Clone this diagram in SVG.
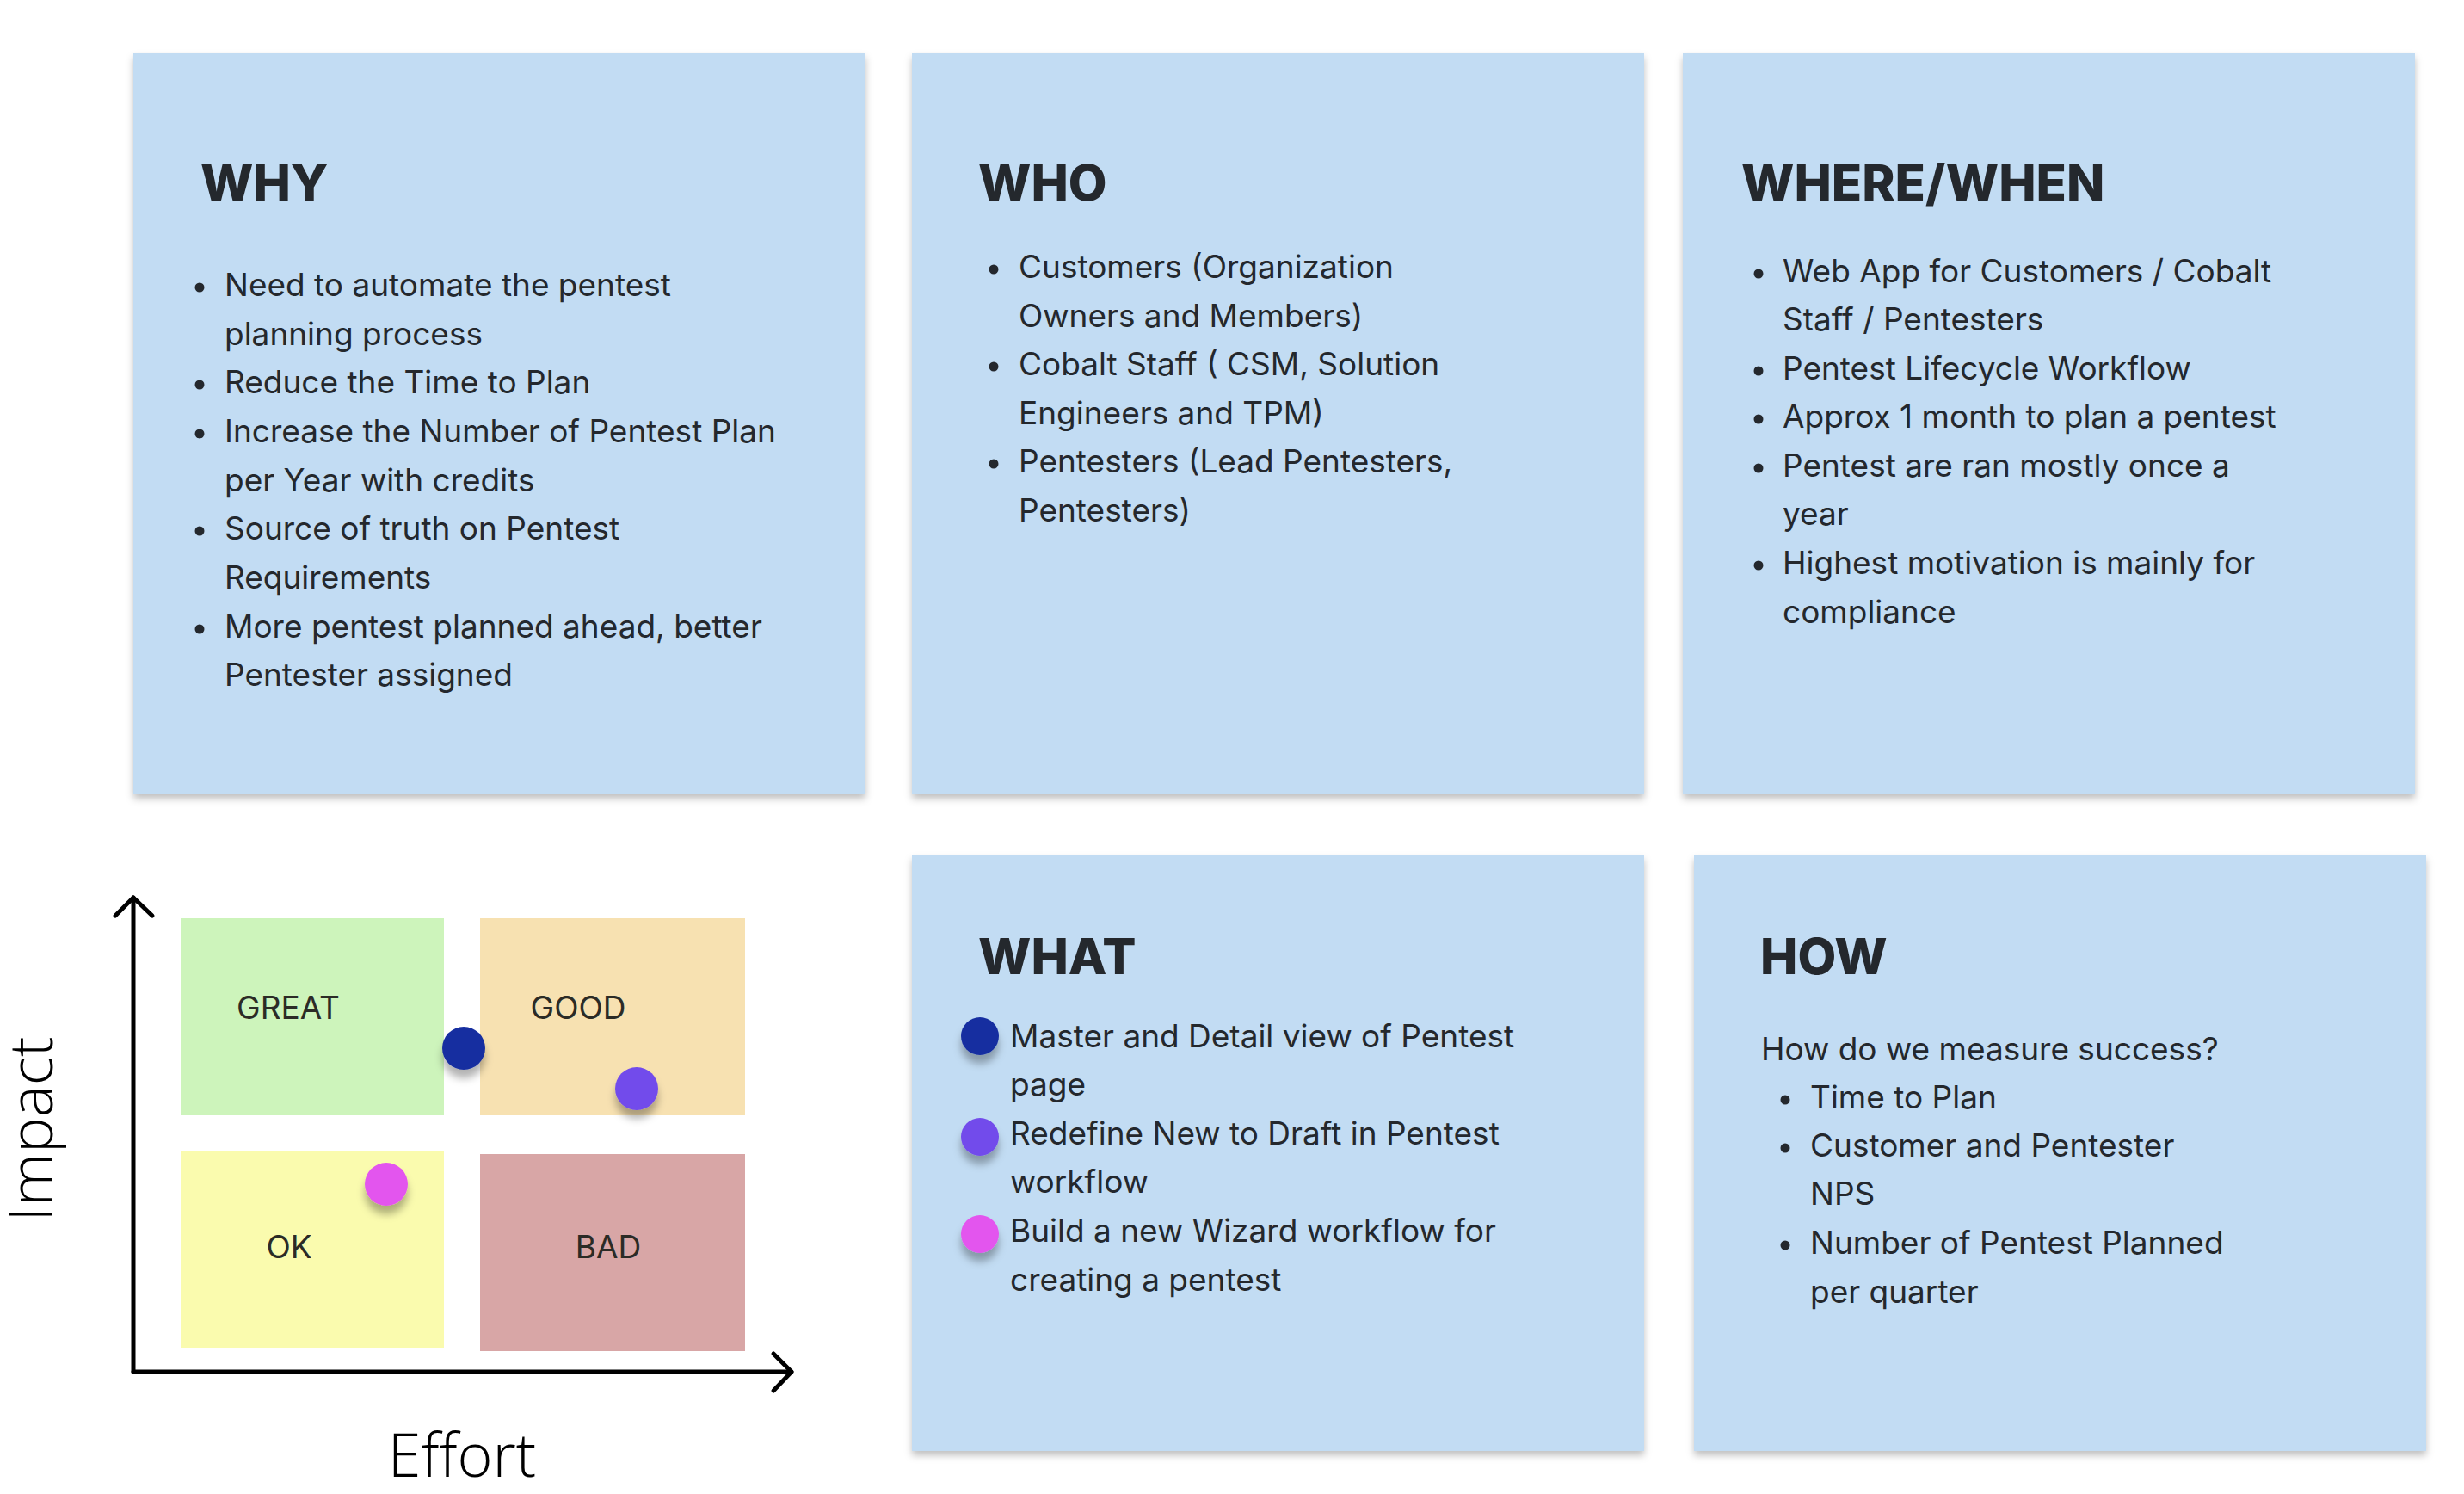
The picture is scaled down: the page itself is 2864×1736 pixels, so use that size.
<svg xmlns="http://www.w3.org/2000/svg" width="2864" height="1736" viewBox="0 0 2864 1736">
  <style>
    .card { fill: #C2DCF3; filter: url(#cardShadow); }
    .title { font-family: Inter, "Noto Sans", "Liberation Sans", sans-serif; font-weight: 800; font-size: 58px; fill: #24282D; }
    .body { font-family: Inter, "Noto Sans", "Liberation Sans", sans-serif; font-weight: 400; font-size: 37px; fill: #24282D; }
    .bullet { fill: #24282D; }
    .quad-label { font-family: Inter, "Noto Sans", "Liberation Sans", sans-serif; font-size: 37px; fill: #2B2B26; text-anchor: middle; }
    .axis-label { font-family: "Open Sans", "Liberation Sans", sans-serif; font-weight: 300; font-size: 70px; fill: #000; }
    .axis { fill: none; stroke: #000; stroke-width: 5; stroke-linecap: round; stroke-linejoin: round; }
    .dot { filter: url(#dotShadow); }
  </style>
  <defs>
    <filter id="cardShadow" x="-5%" y="-5%" width="110%" height="112%">
      <feDropShadow dx="0" dy="5" stdDeviation="4" flood-color="#000" flood-opacity="0.25"/>
    </filter>
    <filter id="dotShadow" x="-60%" y="-60%" width="220%" height="240%">
      <feDropShadow dx="0" dy="10" stdDeviation="5" flood-color="#000" flood-opacity="0.3"/>
    </filter>
  </defs>
  <rect width="2864" height="1736" fill="#FFFFFF"/>

  <!-- WHY -->
  <g id="why">
    <rect class="card" x="155" y="62" width="851" height="861"/>
    <text class="title" x="233" y="233">WHY</text>
    <circle class="bullet" cx="232" cy="334" r="5.5"/>
    <circle class="bullet" cx="232" cy="447" r="5.5"/>
    <circle class="bullet" cx="232" cy="504" r="5.5"/>
    <circle class="bullet" cx="232" cy="617" r="5.5"/>
    <circle class="bullet" cx="232" cy="731" r="5.5"/>
    <text class="body" x="261" y="344">Need to automate the pentest</text>
    <text class="body" x="261" y="401">planning process</text>
    <text class="body" x="261" y="457">Reduce the Time to Plan</text>
    <text class="body" x="261" y="514">Increase the Number of Pentest Plan</text>
    <text class="body" x="261" y="571">per Year with credits</text>
    <text class="body" x="261" y="627">Source of truth on Pentest</text>
    <text class="body" x="261" y="684">Requirements</text>
    <text class="body" x="261" y="741">More pentest planned ahead, better</text>
    <text class="body" x="261" y="797">Pentester assigned</text>
  </g>

  <!-- WHO -->
  <g id="who">
    <rect class="card" x="1060" y="62" width="851" height="861"/>
    <text class="title" x="1137" y="233">WHO</text>
    <circle class="bullet" cx="1155" cy="313" r="5.5"/>
    <circle class="bullet" cx="1155" cy="426" r="5.5"/>
    <circle class="bullet" cx="1155" cy="539" r="5.5"/>
    <text class="body" x="1184" y="323">Customers (Organization</text>
    <text class="body" x="1184" y="380">Owners and Members)</text>
    <text class="body" x="1184" y="436">Cobalt Staff ( CSM, Solution</text>
    <text class="body" x="1184" y="493">Engineers and TPM)</text>
    <text class="body" x="1184" y="549">Pentesters (Lead Pentesters,</text>
    <text class="body" x="1184" y="606">Pentesters)</text>
  </g>

  <!-- WHERE/WHEN -->
  <g id="where-when">
    <rect class="card" x="1956" y="62" width="851" height="861"/>
    <text class="title" x="2024" y="233">WHERE/WHEN</text>
    <circle class="bullet" cx="2044" cy="318" r="5.5"/>
    <circle class="bullet" cx="2044" cy="431" r="5.5"/>
    <circle class="bullet" cx="2044" cy="487" r="5.5"/>
    <circle class="bullet" cx="2044" cy="544" r="5.5"/>
    <circle class="bullet" cx="2044" cy="657" r="5.5"/>
    <text class="body" x="2072" y="328">Web App for Customers / Cobalt</text>
    <text class="body" x="2072" y="384">Staff / Pentesters</text>
    <text class="body" x="2072" y="441">Pentest Lifecycle Workflow</text>
    <text class="body" x="2072" y="497">Approx 1 month to plan a pentest</text>
    <text class="body" x="2072" y="554">Pentest are ran mostly once a</text>
    <text class="body" x="2072" y="610">year</text>
    <text class="body" x="2072" y="667">Highest motivation is mainly for</text>
    <text class="body" x="2072" y="724">compliance</text>
  </g>

  <!-- WHAT -->
  <g id="what">
    <rect class="card" x="1060" y="994" width="851" height="692"/>
    <text class="title" x="1137" y="1132">WHAT</text>
    <circle class="dot" cx="1139" cy="1204" r="22" fill="#172FA0"/>
    <circle class="dot" cx="1139" cy="1321" r="22" fill="#724CEB"/>
    <circle class="dot" cx="1139" cy="1434" r="22" fill="#E355EE"/>
    <text class="body" x="1174" y="1217">Master and Detail view of Pentest</text>
    <text class="body" x="1174" y="1273">page</text>
    <text class="body" x="1174" y="1330">Redefine New to Draft in Pentest</text>
    <text class="body" x="1174" y="1386">workflow</text>
    <text class="body" x="1174" y="1443">Build a new Wizard workflow for</text>
    <text class="body" x="1174" y="1500">creating a pentest</text>
  </g>

  <!-- HOW -->
  <g id="how">
    <rect class="card" x="1969" y="994" width="851" height="692"/>
    <text class="title" x="2046" y="1132">HOW</text>
    <text class="body" x="2047" y="1232">How do we measure success?</text>
    <circle class="bullet" cx="2075" cy="1278" r="5.5"/>
    <circle class="bullet" cx="2075" cy="1334" r="5.5"/>
    <circle class="bullet" cx="2075" cy="1447" r="5.5"/>
    <text class="body" x="2104" y="1288">Time to Plan</text>
    <text class="body" x="2104" y="1344">Customer and Pentester</text>
    <text class="body" x="2104" y="1400">NPS</text>
    <text class="body" x="2104" y="1457">Number of Pentest Planned</text>
    <text class="body" x="2104" y="1514">per quarter</text>
  </g>

  <!-- Impact / Effort matrix -->
  <g id="matrix">
    <g id="q-great">
      <rect x="210" y="1067" width="306" height="229" fill="#CDF4BB"/>
      <text class="quad-label" x="335" y="1184">GREAT</text>
    </g>
    <g id="q-good">
      <rect x="558" y="1067" width="308" height="229" fill="#F7E1B1"/>
      <text class="quad-label" x="672" y="1184">GOOD</text>
    </g>
    <g id="q-ok">
      <rect x="210" y="1337" width="306" height="229" fill="#FAFBAE"/>
      <text class="quad-label" x="336" y="1462">OK</text>
    </g>
    <g id="q-bad">
      <rect x="558" y="1341" width="308" height="229" fill="#D8A6A6"/>
      <text class="quad-label" x="707" y="1462">BAD</text>
    </g>
    <g id="dots">
      <circle class="dot" cx="539" cy="1218" r="25" fill="#172FA0"/>
      <circle class="dot" cx="740" cy="1265" r="25" fill="#724CEB"/>
      <circle class="dot" cx="449" cy="1376" r="25" fill="#E355EE"/>
    </g>
    <text class="axis-label" transform="translate(61,1312) rotate(-90)" text-anchor="middle">Impact</text>
    <text class="axis-label" x="537" y="1716" text-anchor="middle">Effort</text>
  </g>

  <g id="connectors">
    <path class="axis" d="M155,1594 L155,1043"/>
    <path class="axis" d="M134,1064 L155,1043 L177,1064"/>
    <path class="axis" d="M155,1594 L920,1594"/>
    <path class="axis" d="M899,1573 L920,1594 L899,1616"/>
  </g>
</svg>
